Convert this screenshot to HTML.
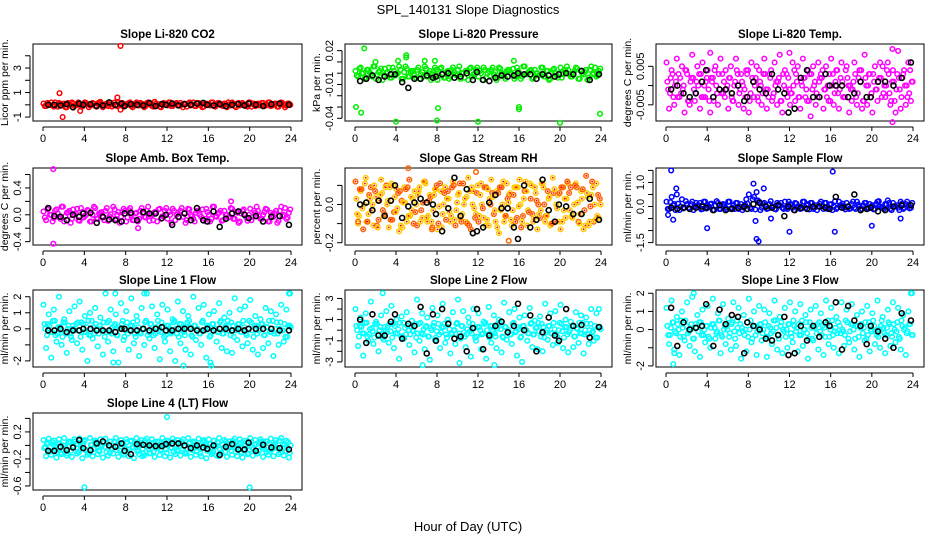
<!DOCTYPE html>
<html><head><meta charset="utf-8"><title>SPL_140131 Slope Diagnostics</title>
<style>
html,body{margin:0;padding:0;background:#fff;}
svg{display:block;font-family:"Liberation Sans",Arial,sans-serif;}
</style></head>
<body>
<svg id="chart" width="936" height="540" viewBox="0 0 936 540" xmlns="http://www.w3.org/2000/svg">
<rect x="0" y="0" width="936" height="540" fill="#fff"/>
<text x="468" y="14" font-size="13" text-anchor="middle">SPL_140131  Slope Diagnostics</text>
<text x="468" y="531" font-size="13" text-anchor="middle">Hour of Day (UTC)</text>
<g id="panels"></g>
</svg>
<script>
// ---- shared sampling hours ----
const blackHours=[0.5,1.1,1.7,2.3,2.9,3.5,3.9,4.6,5.2,5.8,6.4,7.0,7.6,7.9,8.5,9.1,9.7,10.3,10.9,11.5,11.9,12.5,13.1,13.7,14.3,14.9,15.5,15.9,16.5,17.1,17.7,18.3,18.9,19.5,19.9,20.6,21.3,22.1,22.9,23.8];
const xTicks=[0,4,8,12,16,20,24];

// ---- CO2 (ppm/min) ----
const co2Colored=[0.1,-0.1,0.05,0.2,-0.15,0,0.15,-0.05,0.1,-0.2,0.05,0.2,-0.1,0.1,0,-0.15,0.2,0.05,-0.05,0.15,-0.1,0.1,0.25,-0.2,0.05,-0.1,0.15,0,-0.05,0.2,0.1,-0.15,0.05,0.15,-0.1,0,0.2,-0.05,0.1,-0.2,0.15,0.05,-0.1,0.25,0,-0.15,0.1,0.05,-0.05,0.2,-0.1,0.1,0,0.15,-0.2,0.05,0.1,-0.05,0.2,-0.1,0.15,0,-0.15,0.1,0.05,0.2,-0.1,0,0.15,-0.05,0.1,-0.2,0.05,0.2,-0.1,0.1,-0.05,0.15,0,-0.15,0.2,0.05,-0.1,0.1,0,0.15,-0.05,0.2,-0.1,0.05,0.1,-0.15,0.2,0,-0.05,0.1];
const co2Colored2=[-0.1,0.15,0,-0.05,0.2,-0.15,0.1,0.05,-0.2,0.15,0,0.1,-0.05,0.2,-0.1,0.05,0.15,-0.2,0,0.1,-0.15,0.2,0.05,-0.05,0.1,0,-0.15,0.2,-0.1,0.05,0.15,-0.05,0,0.2,-0.2,0.1,-0.05,0.15,0.05,-0.1,0.2,0,-0.15,0.1,0.05,-0.2,0.15,0,0.2,-0.1,0.05,0.15,-0.05,0,0.1,-0.15,0.2,0.05,-0.1,0.15,0,-0.2,0.1,0.05,-0.05,0.2,-0.15,0.15,0,-0.1,0.05,0.2,-0.05,0.1,-0.2,0.15,0,0.05,-0.1,0.2,-0.15,0.1,0.05,-0.05,0.15,-0.1,0,0.2,-0.05,0.1,-0.15,0.05,0.15,-0.2,0.1,0];
const co2Black=[0,0,-0.05,0.05,-0.2,0.1,0,0.05,-0.1,-0.05,0.2,0,0.1,-0.1,0.05,0,-0.05,0.15,-0.1,0.05,0,0.1,-0.05,0.05,0,0.1,0.15,0,-0.05,0.05,-0.1,0,0.05,-0.05,0.1,0,-0.1,0.05,0.1,0];
const co2OutHours=[7.5,1.6,1.9,3.6,7.2,7.5];
const co2OutValues=[4.8,0.95,-1.0,-0.5,0.6,-0.4];

// ---- Pressure (x0.001 kPa/min) ----
const presColored=[2,-3,5,0,-4,3,-1,6,-5,1,4,-2,0,5,-4,2,-1,6,-5,1,4,-3,2,-2,3,-5,1,6,-3,2,-1,5,-6,4,0,-4,2,-3,5,-1,3,-5,0,2,-6,5,-1,3,-3,0,5,-4,2,3,-1,-6,5,0,-3,2,3,-1,-5,5,0,-3,6,-1,2,-5,3,0,-1,5,-3,2,-5,3,0,-4,5,-1,2,3,-3,0,5,-5,2,-1,3,-4,6,0,-3,2];
const presColored2=[-2,4,0,-5,3,1,-3,6,-1,2,-6,4,1,-4,5,-2,0,3,-5,6,-3,1,2,-4,5,-1,-3,4,0,-6,2,3,-2,5,-4,1,-5,3,1,-2,6,0,-4,2,4,-3,-1,5,2,-6,3,0,-2,5,1,-4,4,-1,-5,3,0,4,-3,2,-5,6,-1,1,3,-4,0,-2,5,-3,2,-6,1,4,-2,0,-4,3,6,-1,-3,2,4,-5,0,1,-6,3,-1,5,-2,4];
const presBlack=[-7,-5,-2,-6,-3,-1,-1,-8,-13,-5,-5,-2,-4,-3,-1,0,-4,-3,0,-6,1,-6,-7,-4,-2,-3,-2,0,-1,-1,-5,-1,-2,-3,-1,0,-1,2,-6,-1];
const presOutHours=[0.9,0.1,0.6,4,8,8.1,12,16,16,20,23.9,5,5,15.5,7.8,6.8,2,4.2];
const presOutValues=[22,-30,-35,-43,-42,-31,-43,-32,-30,-44,-36,16,14,11,11,11,10,11];

// ---- Li-820 Temp (x0.001 C/min) ----
const tempColored=[1,-2,3,0,-3,2,-1,4,-4,1,2,-2,0,3,-3,1,-1,2,-4,0,3,-2,1,-1,2,-3,0,4,-2,1,-1,3,-4,2,0,-3,1,-2,3,-1,2,-3,0,1,-4,3,-1,2,-2,0,3,-3,1,2,-1,-4,3,0,-2,1,2,-1,-3,3,0,-2,4,-1,1,-3,2,0,-1,3,-2,1,-4,2,0,-3,3,-1,1,2,-2,0,3,-4,1,-1,2,-3,4,0,-2,1];
const tempColored2=[6,-6,4,-5,7,-3,5,-7,3,-5,8,-4,5,-6,6,-3,4,-7,2,5,-5,7,-2,4,-6,5,-4,7,-5,3,-6,4,-7,6,-3,5,4,-5,7,-6,3,-4,6,-5,8,-7,4,-3,-5,6,-4,5,-6,7,-3,4,-8,5,-5,6,3,-6,5,-4,7,-5,4,-6,6,-3,5,-7,-4,6,-5,4,-6,8,-5,3,-7,5,-4,6,5,-3,6,-5,4,-7,9,-6,3,-5,6,-4];
const tempColored3=[-1,2,-3,1,3,-2,0,4,-4,2,-1,1,3,-3,0,2,-4,1,4,-2,-1,3,-3,0,2,-4,1,3,-1,0,-3,4,-2,1,2,-4,0,3,-1,-3,4,-2,1,2,-4,0,3,-1,-2,4,1,-3,0,2,-4,3,-1,1,-3,2,4,-1,0,-4,3,1,-2,2,-3,4,0,-1,1,-3,2,4,-4,0,3,-2,1,-1,2,-3,0,4,-2,1,-4,3,-1,2,0,-3,4,1];
const tempBlack=[-1,0,-2,-3,-2,1,4,-3,-1,-1,-2,0,-4,-3,1,-1,-2,3,-1,-2,-7,-6,2,4,-3,-3,3,0,0,0,-3,-2,1,-3,-3,1,1,0,2,6];
const tempOutHours=[22,22,12,4.3];
const tempOutValues=[-9.5,9.5,8.5,8.5];

// ---- Amb. Box Temp (x0.01 C/min) ----
const ambColored=[5,-8,10,0,-5,8,-3,12,-10,3,6,-6,0,9,-9,4,-2,7,-10,0,10,-6,3,-4,6,-9,1,12,-6,4,-3,9,-10,7,0,-8,3,-6,10,-3,6,-9,0,4,-10,9,-2,6,-6,0,9,-8,3,6,-3,-12,9,0,-6,3,6,-3,-9,9,0,-6,12,-3,3,-9,6,0,-3,9,-6,3,-10,6,0,-9,9,-3,3,6,-6,0,9,-10,3,-3,6,-9,12,0,-6,3];
const ambColored2=[-4,8,0,-10,6,2,-6,12,-2,4,-12,8,2,-8,10,-4,0,6,-10,12,-6,2,4,-8,10,-2,-6,8,0,-12,4,6,-4,10,-8,2,-10,6,2,-4,12,0,-8,4,8,-6,-2,10,4,-12,6,0,-4,10,2,-8,8,-2,-10,6,0,8,-6,4,-10,12,-2,2,6,-8,0,-4,10,-6,4,-12,2,8,-4,0,-8,6,12,-2,-6,4,8,-10,0,2,-12,6,-2,10,-4,8];
const ambBlack=[10,-2,-3,-8,0,-3,2,3,-12,-3,-7,-8,-10,2,3,-8,4,2,2,-5,0,-15,-3,2,-8,10,-8,-10,5,-18,-6,2,5,0,-5,-2,-10,-3,-2,-15];
const ambOutHours=[1,1,18.2,9.2];
const ambOutValues=[68,-43,20,-20];

// ---- Gas Stream RH (x0.01 %/min) ----
const rhColored=[3,-6,8,0,-9,5,-3,10,-11,2,6,-5,0,9,-8,4,-2,7,-12,1,9,-6,3,-4,5,-9,1,11,-6,4,-3,8,-10,7,0,-8,3,-6,10,-3,6,-9,0,4,-11,9,-2,6,-6,0,9,-8,3,6,-3,-12,9,0,-6,3,6,-3,-9,9,0,-6,12,-3,3,-9,6,0,-3,9,-6,3,-10,6,0,-9,9,-3,3,6,-6,0,9,-10,3,-3,6,-9,12,0,-6,3];
const rhColored2=[12,-10,7,-13,14,-5,9,-11,4,-8,13,-6,10,-12,11,-4,8,-14,2,9,-9,13,-3,7,-11,9,-7,12,-9,5,-12,8,-13,11,-5,9,7,-9,12,-11,5,-7,11,-9,14,-13,7,-5,-9,11,-7,9,-11,13,-5,7,-15,9,-9,11,5,-11,9,-7,13,-9,7,-11,11,-5,9,-13,-7,11,-9,7,-11,14,-9,5,-13,9,-7,11,9,-5,11,-9,7,-13,15,-11,5,-9,11,-7];
const rhColored3=[-5,8,-2,11,-9,3,0,7,-12,5,-3,9,2,-8,10,-4,6,-11,1,8,-6,4,-10,0,7,-3,12,-7,2,-9,5,10,-1,-12,6,3,-4,9,-8,1,11,-5,3,-10,7,0,-7,10,5,-2,-11,8,0,4,-9,6,-3,12,-6,1,-8,5,9,-1,-12,3,7,-4,10,-7,2,-5,11,0,-6,4,-10,8,-2,6,-9,3,12,-3,-7,10,1,-5,8,-11,4,-1,9,-8,5,0];
const rhBlack=[0,1,-3,2,-6,2,10,-7,-1,1,3,1,0,-5,-14,-2,14,-6,8,-15,-14,-12,1,5,-2,-2,-12,-18,10,-12,-8,13,-3,-9,0,-1,-5,-5,3,-8];
const rhOutHours=[5.2,15,11.8,7.5,0.3];
const rhOutValues=[19,-19,17,-13,-9];

// ---- Sample Flow (x0.01 ml/min/min) ----
const sampleColored=[20,-10,40,10,50,-15,30,-5,10,-10,20,0,5,15,-10,20,-5,10,-15,5,15,-10,10,-5,20,-10,5,15,-10,10,-5,30,50,-10,40,60,20,-5,15,-10,10,0,-10,15,5,-5,20,-10,10,-5,15,0,-10,20,-5,10,15,-10,5,0,20,-10,15,-5,10,0,-10,20,5,-5,15,-10,10,-5,20,0,-10,15,-5,10,5,-10,20,0,-5,10,25,-10,15,0,-5,20,-10,10,5,-5];
const sampleColored2=[-10,18,5,-15,12,0,-8,22,-5,10,-15,15,5,-12,20,-8,0,12,-15,22,-10,5,8,-12,20,-5,-10,15,0,-15,8,12,-5,30,-12,25,-15,10,5,-8,22,0,-12,8,15,-10,-5,20,8,-15,12,0,-8,20,5,-12,15,-5,-15,12,0,15,-10,8,-15,22,-5,5,12,-12,0,-8,20,-10,8,-15,5,15,-8,0,-12,12,22,-5,-10,8,15,-15,0,5,-15,12,-5,20,-8,15];
const sampleBlack=[-5,-10,-5,-10,-5,0,-5,-15,5,-15,-10,-5,0,-10,10,15,0,-5,5,-40,0,-15,-5,-10,0,0,-5,-10,40,-5,0,50,-15,-10,-5,-20,-15,0,5,5];
const sampleOutHours=[0.5,16.2,0.7,4,8.8,9,12,16.4,20,22.8,8.5,9.5,1,10.2,0.2,8.7];
const sampleOutValues=[150,145,-55,-90,-135,-145,-105,-105,-80,-50,95,75,75,-50,-35,-60];

// ---- Line 1 Flow (x0.1) ----
const l1Colored=[3,-4,2,-2,5,-3,1,-5,4,0,-3,2,-1,4,-5,3,-2,5,-4,1,3,-3,0,4,-2,5,-3,2,-4,1,3,-5,4,-1,2,-3,5,-2,0,4,-4,3,-1,-3,5,-2,1,-4,2,-3,4,0,-5,3,-2,1,5,-4,2,-1,-3,4,-1,2,-5,3,0,-2,4,-3,1,5,-4,2,-1,3,-2,5,-3,0,4,-5,2,-1,3,-4,1,5,-2,-3,4,0,-1,3,-5,2];
const l1Colored2=[15,-12,9,-18,12,-8,20,-10,6,-15,11,-7,14,-9,17,-13,8,-20,10,-6,13,-11,7,-16,22,-8,12,-14,9,-21,16,-7,11,-13,19,-9,8,-17,13,-10,22,-6,14,-12,9,-19,15,-8,12,-14,6,-20,17,-9,11,-13,8,-16,20,-7,13,-10,15,-18,9,-23,11,-8,16,-12,7,-14,10,-15,19,-7,12,-11,14,-9,18,-13,8,-16,6,-12,13,-9,11,-17,9,-10,15,-8,12,22];
const l1Colored3=[0,3,-2,5,-4,1,-1,4,-3,2,-5,0,3,-1,4,-2,1,-4,5,-3,0,2,-1,-5,4,-2,1,3,-4,0,5,-1,-3,2,4,-5,1,-3,0,5,-2,3,-4,1,-1,4,-5,2,0,-2,5,-3,3,-1,-4,4,1,-5,2,0,-3,5,-1,1,-4,3,0,-2,5,-3,2,-1,4,-5,0,3,-2,1,-4,5,-1,2,-3,0,3,-4,1,-2,5,0,-3,4,-1,-5,2,1];
const l1Black=[-1,-1,0,-2,-1,-1,0,0,-1,-1,-1,-2,0,0,-1,-1,0,-1,0,1,-1,-1,0,0,0,-1,-1,0,-1,0,0,-1,0,-1,0,0,0,0,-1,-1];
const l1OutHours=[6.8,13.6,16.2,7,9.8,23.9];
const l1OutValues=[-21,-23,-21,22,22,22];

// ---- Line 2 Flow (x0.1) ----
const l2Colored=[4,-6,3,-3,7,-4,2,-7,6,0,-4,3,-2,6,-7,4,-3,7,-6,2,4,-4,0,6,-3,7,-4,3,-6,2,4,-7,6,-2,3,-4,7,-3,0,6,-6,4,-2,-4,7,-3,2,-6,3,-4,6,0,-7,4,-3,2,7,-6,3,-2,-4,6,-2,3,-7,4,0,-3,6,-4,2,7,-6,3,-2,4,-3,7,-4,0,6,-7,3,-2,4,-6,2,7,-3,-4,6,0,-2,4,-7,3];
const l2Colored2=[20,-15,12,-24,16,-10,27,-13,8,-20,14,-9,18,-12,23,-17,10,-27,13,-8,17,-14,9,-21,29,-10,16,-18,12,-28,21,-9,14,-17,25,-12,10,-22,17,-13,29,-8,18,-16,12,-25,20,-10,16,-18,8,-27,22,-12,14,-17,10,-21,26,-9,17,-13,20,-24,12,-30,14,-10,21,-16,9,-18,13,-20,25,-9,16,-14,18,-12,24,-17,10,-21,8,-16,17,-12,14,-22,12,-13,20,-10,16,20];
const l2Colored3=[0,4,-3,7,-6,1,-1,6,-4,3,-7,0,4,-1,6,-3,1,-6,7,-4,0,3,-1,-7,6,-3,1,4,-6,0,7,-1,-4,3,6,-7,1,-4,0,7,-3,4,-6,1,-1,6,-7,3,0,-3,7,-4,4,-1,-6,6,1,-7,3,0,-4,7,-1,1,-6,4,0,-3,7,-4,3,-1,6,-7,0,4,-3,1,-6,7,-1,3,-4,0,4,-6,1,-3,7,0,-4,6,-1,-7,3,1];
const l2Black=[10,-12,15,-5,-5,8,15,-8,6,4,22,-22,15,-10,20,6,-8,-6,-20,2,20,-18,-5,4,8,-2,4,25,0,14,-20,-2,12,-5,-10,20,4,5,-7,3];
const l2OutHours=[2.7,6.6,13.6,10.2];
const l2OutValues=[35,-33,-33,-31];

// ---- Line 3 Flow (x0.1) ----
const l3Colored=[2,-3,4,-1,3,-4,1,5,-2,0,-5,3,-1,4,-3,2,-4,1,3,-2,5,-3,0,2,-4,3,-1,5,-2,1,-3,4,0,-5,2,-1,3,-2,4,-4,1,-1,5,-3,2,0,-4,3,-2,5,-1,3,-3,0,4,-5,1,2,-2,4,-3,1,3,-4,5,-1,-2,2,0,-3,4,-1,3,-5,2,1,-2,4,-3,0,5,-1,-4,2,1,-3,4,-2,3,-1,-4,5,0,-2,3,-3];
const l3Colored2=[12,-8,16,-11,7,-14,10,-6,15,-9,18,-12,8,-15,11,-7,13,-10,17,-5,9,-13,14,-8,6,-11,15,-9,12,-16,8,-12,17,-7,10,-14,13,-6,11,-15,9,-8,16,-11,7,-13,12,-10,15,-7,10,-12,14,-9,8,-16,11,-6,13,-11,9,-14,16,-8,12,-10,7,-13,15,-9,11,-7,14,-11,8,-15,10,-6,13,-12,9,-8,16,-10,7,-13,11,-9,15,-7,12,-11,8,-14,10,20];
const l3Colored3=[-3,1,4,-2,0,5,-4,2,-1,3,-5,1,4,-3,0,2,-5,3,1,-1,5,-4,2,0,-2,4,-5,1,3,-1,0,-4,5,2,-3,1,3,0,-4,2,-2,5,1,-5,4,-1,0,3,-4,2,1,-3,5,0,-2,4,-5,1,3,-1,2,-4,5,0,-3,1,4,-2,-1,5,-5,3,0,2,-4,3,1,-5,4,-1,2,-3,0,5,-2,1,3,-4,0,4,-5,2,1,-1,3,-3];
const l3Black=[12,-9,4,0,1,2,14,-9,11,3,8,7,-13,4,2,0,-5,-6,-3,7,-14,-13,2,-6,2,-4,4,2,15,-11,13,5,2,-8,2,-1,-5,-10,9,5];
const l3OutHours=[0.7,2.7,23.9,0.8];
const l3OutValues=[-19,20,20,-13];

// ---- Line 4 (LT) Flow (x0.01) ----
const l4Colored=[-4,2,-8,5,-2,-10,3,-6,0,-12,4,-3,6,-9,-1,3,-7,-11,1,-5,5,-8,-2,4,-10,0,-4,6,-7,2,-12,-1,5,-6,-3,3,-9,1,-5,7,-2,-11,4,-4,0,-8,2,-6,5,-3,-10,1,-7,6,-1,-12,3,-5,4,-9,0,-4,6,-8,2,-11,-2,5,-6,1,-10,3,-3,7,-9,-1,4,-7,0,-12,5,-5,2,-8,6,-2,-10,3,-6,0,-4,7,-9,1,-3,-11];
const l4Colored2=[8,-16,10,-14,7,-18,9,-13,11,-15,6,-17,9,-12,10,-19,8,-14,11,-16,7,-13,9,-18,10,-15,6,-12,11,-17,8,-14,9,-16,7,-19,11,-13,8,-15,10,-12,9,-17,6,-14,11,-16,7,-18,10,-13,8,-15,9,-12,11,-17,6,-14,10,-16,8,-19,9,-13,7,-15,11,-12,8,-17,6,-14,10,-16,9,-18,7,-13,11,-15,8,-12,9,-17,6,-14,10,-16,8,-13,11,-15,7,-18];
const l4Colored3=[-2,4,-9,1,-6,3,-11,0,-4,5,-8,-1,2,-10,-3,6,-7,-12,1,-5,4,-9,0,-2,3,-11,-6,5,-1,-8,2,-4,-10,6,-3,0,-7,4,-12,1,-5,3,-9,-2,5,-6,0,-11,2,-4,6,-8,-1,3,-10,-5,4,-7,1,-3,-12,5,-2,-6,3,-9,0,4,-11,-4,6,-1,-8,2,-5,3,-10,0,5,-7,-3,1,-12,4,-2,-6,6,-9,-1,3,-4,-11,2,-8,5,0];
const l4Black=[-8,-8,-2,-7,-3,8,-4,-7,3,6,0,-2,3,-8,-13,2,1,0,-1,-1,2,3,3,0,-4,0,-3,-5,0,-14,-2,2,-6,-6,4,-8,1,-3,-4,-6];
const l4OutHours=[4,20,12,9.6,17];
const l4OutValues=[-62,-62,42,-16,-16];

const panels=[
 {id:'co2',title:'Slope Li-820 CO2',ylab:'Licor ppm per min.',col:0,row:0,ymin:-1.32,ymax:4.96,unit:1,ticks:[-1,0,1,2,3,4],labels:{'-1':'-1','1':'1','3':'3'},color:'#ff0000',c:[co2Colored,co2Colored2],k:co2Black,oh:co2OutHours,ov:co2OutValues},
 {id:'pressure',title:'Slope Li-820 Pressure',ylab:'kPa per min.',col:1,row:0,ymin:-0.0424,ymax:0.0259,unit:0.001,ticks:[0.02,0.01,0,-0.01,-0.02,-0.03,-0.04],labels:{'0.02':'0.02','-0.01':'-0.01','-0.04':'-0.04'},color:'#00ee00',c:[presColored,presColored2],k:presBlack,oh:presOutHours,ov:presOutValues},
 {id:'li820-temp',title:'Slope Li-820 Temp.',ylab:'degrees C per min.',col:2,row:0,ymin:-0.0092,ymax:0.0108,unit:0.001,ticks:[0.005,0,-0.005],labels:{'0.005':'0.005','-0.005':'-0.005'},color:'#ff00ff',c:[tempColored2,tempColored,tempColored3],k:tempBlack,oh:tempOutHours,ov:tempOutValues},
 {id:'amb-box-temp',title:'Slope Amb. Box Temp.',ylab:'degrees C per min.',col:0,row:1,ymin:-0.45,ymax:0.697,unit:0.01,ticks:[0.6,0.4,0.2,0,-0.2,-0.4],labels:{'0.4':'0.4','0':'0.0','-0.4':'-0.4'},color:'#ff00ff',c:[ambColored,ambColored2],k:ambBlack,oh:ambOutHours,ov:ambOutValues},
 {id:'gas-stream-rh',title:'Slope Gas Stream RH',ylab:'percent per min.',col:1,row:1,ymin:-0.212,ymax:0.191,unit:0.01,ticks:[0.1,0,-0.1,-0.2],labels:{'0':'0.0','-0.2':'-0.2'},color:'rh',c:[rhColored2,rhColored,rhColored3],k:rhBlack,oh:rhOutHours,ov:rhOutValues},
 {id:'sample-flow',title:'Slope Sample Flow',ylab:'ml/min per min.',col:2,row:1,ymin:-1.6,ymax:1.6,unit:0.01,ticks:[1.5,1,0.5,0,-0.5,-1,-1.5],labels:{'1':'1.0','0':'0.0','-1.5':'-1.5'},color:'#0000ff',c:[sampleColored,sampleColored2],k:sampleBlack,oh:sampleOutHours,ov:sampleOutValues},
 {id:'line1-flow',title:'Slope Line 1 Flow',ylab:'ml/min per min.',col:0,row:2,ymin:-2.38,ymax:2.42,unit:0.1,ticks:[2,1,0,-1,-2],labels:{'2':'2','1':'1','0':'0','-2':'-2'},color:'#00ffff',c:[l1Colored2,l1Colored,l1Colored3],k:l1Black,oh:l1OutHours,ov:l1OutValues},
 {id:'line2-flow',title:'Slope Line 2 Flow',ylab:'ml/min per min.',col:1,row:2,ymin:-3.48,ymax:3.8,unit:0.1,ticks:[3,2,1,0,-1,-2,-3],labels:{'3':'3','1':'1','-1':'-1','-3':'-3'},color:'#00ffff',c:[l2Colored2,l2Colored,l2Colored3],k:l2Black,oh:l2OutHours,ov:l2OutValues},
 {id:'line3-flow',title:'Slope Line 3 Flow',ylab:'ml/min per min.',col:2,row:2,ymin:-2.06,ymax:2.18,unit:0.1,ticks:[2,1,0,-1,-2],labels:{'2':'2','1':'1','0':'0','-2':'-2'},color:'#00ffff',c:[l3Colored2,l3Colored,l3Colored3],k:l3Black,oh:l3OutHours,ov:l3OutValues},
 {id:'line4-flow',title:'Slope Line 4 (LT) Flow',ylab:'ml/min per min.',col:0,row:3,ymin:-0.66,ymax:0.48,unit:0.01,ticks:[0.4,0.2,0,-0.2,-0.4,-0.6],labels:{'0.2':'0.2','-0.2':'-0.2','-0.6':'-0.6'},color:'#00ffff',c:[l4Colored2,l4Colored,l4Colored3],k:l4Black,oh:l4OutHours,ov:l4OutValues}
];

const NS='http://www.w3.org/2000/svg';
const colX0=[43,355,666], colW=[248,246,247];
const rowTop=[44,168,290,413], boxH=77;
const root=document.getElementById('panels');
function mk(tag,attrs,parent){const e=document.createElementNS(NS,tag);for(const k in attrs)e.setAttribute(k,attrs[k]);parent.appendChild(e);return e;}

panels.forEach(p=>{
  const x0=colX0[p.col], w=colW[p.col];
  const left=x0-10, right=x0+w+11, top=rowTop[p.row], bottom=top+boxH;
  const xs=h=>x0+h/24*w;
  const ys=v=>bottom-(v-p.ymin)/(p.ymax-p.ymin)*boxH;
  const g=mk('g',{},root);
  
  
  const box=mk('rect',{x:left,y:top,width:right-left,height:boxH,fill:'none',stroke:'#000','stroke-width':1},g);
  
  
  const t=mk('text',{x:(left+right)/2,y:top-6,'font-size':11.5,'font-weight':'bold','text-anchor':'middle'},g);
  t.textContent=p.title;
  
  
  const xa=mk('g',{},g);
  
  
  mk('line',{x1:xs(0),x2:xs(24),y1:bottom+6,y2:bottom+6,stroke:'#000'},xa);
  xTicks.forEach(h=>{
    mk('line',{x1:xs(h),x2:xs(h),y1:bottom+6,y2:bottom+10,stroke:'#000'},xa);
    const tl=mk('text',{x:xs(h),y:bottom+21,'font-size':11,'text-anchor':'middle'},xa);
    tl.textContent=h;
    
    
  });
  const ya=mk('g',{},g);
  
  
  const ty=p.ticks.map(ys);
  mk('line',{x1:left-3,x2:left-3,y1:Math.min(...ty),y2:Math.max(...ty),stroke:'#000'},ya);
  p.ticks.forEach(v=>{
    const y=ys(v);
    mk('line',{x1:left-8,x2:left-3,y1:y,y2:y,stroke:'#000'},ya);
    const key=String(v);
    if(p.labels[key]!==undefined){
      const tl=mk('text',{x:0,y:0,'font-size':11,'text-anchor':'middle',transform:`translate(${left-12},${y}) rotate(-90)`},ya);
      tl.textContent=p.labels[key];
      
      
    }
  });
  const yt=mk('text',{x:0,y:0,'font-size':10.5,'text-anchor':'middle',transform:`translate(${left-25},${(top+bottom)/2}) rotate(-90)`},g);
  yt.textContent=p.ylab;
  
  
  const pts=mk('g',{},g);
  
  
  const colorOf=i=>p.color==='rh'?(i%3===0?'#ff6600':'#ffcc00'):p.color;
  const n=p.c.length;
  p.c.forEach((arr,j)=>{
    arr.forEach((v,i)=>{
      const hx=i*0.25+0.05+j*0.25/n;
      const c=mk('circle',{cx:xs(hx),cy:ys(v*p.unit),r:2.3,fill:'none',stroke:colorOf(i+j),'stroke-width':1.5},pts);
      
      
      if(p.color==='rh'){const d=mk('circle',{cx:xs(hx),cy:ys(v*p.unit),r:0.9,fill:'#ff0000'},pts);
        
        }
    });
  });
  p.oh.forEach((h,i)=>{
    const c=mk('circle',{cx:xs(h),cy:ys(p.ov[i]*p.unit),r:2.3,fill:'none',stroke:colorOf(0),'stroke-width':1.5},pts);
    
    
  });
  p.k.forEach((v,i)=>{
    const c=mk('circle',{cx:xs(blackHours[i]),cy:ys(v*p.unit),r:2.5,fill:'none',stroke:'#000','stroke-width':1.6},pts);
    
    
  });
});
</script>
</body></html>
